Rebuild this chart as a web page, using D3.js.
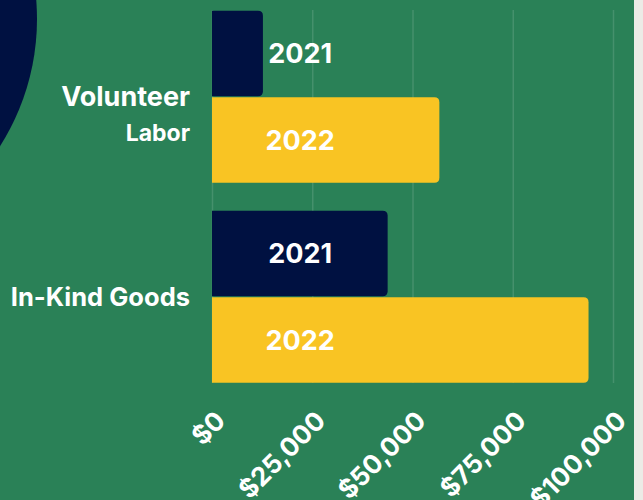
<!DOCTYPE html>
<html>
<head>
<meta charset="utf-8">
<script src="https://cdn.jsdelivr.net/npm/d3@7"></script>
<style>
  html, body { margin: 0; padding: 0; background: #ecebe6; }
  svg { display: block; }
  text { font-family: Inter, "Noto Sans", sans-serif; font-weight: 700; fill: #ffffff; }
</style>
</head>
<body>
<div id="chart"></div>
<script>
// data
const categories = ["Volunteer Labor", "In-Kind Goods"];
const categoryLines = [["Volunteer", "Labor"], ["In-Kind Goods"]];
const years = ["2021", "2022"];
const values2021 = [12700, 43800];
const values2022 = [56700, 93900];
const tickValues = [0, 25000, 50000, 75000, 100000];

const width = 643, height = 500;
const colors = { "2021": "#001141", "2022": "#f9c423" };

const svg = d3.select("#chart").append("svg")
    .attr("width", width)
    .attr("height", height);

// green panel, with the light strip on the right
svg.append("rect")
    .attr("width", 634)
    .attr("height", height)
    .attr("fill", "#2a8157");

// decorative circle at top left
svg.append("circle")
    .attr("cx", -200)
    .attr("cy", 19)
    .attr("r", 237)
    .attr("fill", "#001141");

const x = d3.scaleLinear()
    .domain([0, 100000])
    .range([212, 613]);

const y = d3.scaleBand()
    .domain(categories)
    .range([10.7, 382.7])
    .paddingInner(0.14)
    .paddingOuter(0);

const yInner = d3.scaleBand()
    .domain(years)
    .range([0, y.bandwidth()])
    .paddingInner(0.01);

// grid
svg.append("g")
    .selectAll("line")
    .data(tickValues)
    .enter().append("line")
    .attr("x1", d => x(d) + 0.5)
    .attr("x2", d => x(d) + 0.5)
    .attr("y1", 10)
    .attr("y2", 383)
    .attr("stroke", "rgba(255,255,255,0.13)")
    .attr("stroke-width", 1.5);

// bar data
const rows = [];
categories.forEach(function(c, i) {
    rows.push({ cat: c, year: "2021", value: values2021[i] });
    rows.push({ cat: c, year: "2022", value: values2022[i] });
});

// bar with rounded right corners
function barPath(x0, y0, w, h, r) {
    r = Math.min(r, w, h / 2);
    return "M" + x0 + "," + y0 +
        "H" + (x0 + w - r) +
        "Q" + (x0 + w) + "," + y0 + " " + (x0 + w) + "," + (y0 + r) +
        "V" + (y0 + h - r) +
        "Q" + (x0 + w) + "," + (y0 + h) + " " + (x0 + w - r) + "," + (y0 + h) +
        "H" + x0 + "Z";
}

const bars = svg.append("g")
    .selectAll("g")
    .data(rows)
    .enter().append("g");

bars.append("path")
    .attr("d", d => barPath(x(0), y(d.cat) + yInner(d.year),
        x(d.value) - x(0), yInner.bandwidth(), 5))
    .attr("fill", d => colors[d.year]);

bars.append("text")
    .attr("x", x(22000))
    .attr("y", d => y(d.cat) + yInner(d.year) + yInner.bandwidth() / 2)
    .attr("dy", "0.36em")
    .attr("text-anchor", "middle")
    .style("font-size", "27px")
    .text(d => d.year);

// category labels
const catLabels = svg.append("g")
    .selectAll("text")
    .data(categories)
    .enter().append("text")
    .attr("text-anchor", "end")
    .attr("transform", d => "translate(190," + (y(d) + y.bandwidth() / 2 + 9.3) + ")");

catLabels.each(function(d, i) {
    const t = d3.select(this);
    categoryLines[i].forEach(function(line, j) {
        t.append("tspan")
            .attr("x", 0)
            .attr("y", j * 35)
            .style("font-size", j === 0 ? (categoryLines[i].length > 1 ? "27px" : "25.5px") : "23px")
            .text(line);
    });
});

// x axis
const xAxis = d3.axisBottom(x)
    .tickValues(tickValues)
    .tickFormat(d3.format("$,"))
    .tickSize(0);

const axisG = svg.append("g")
    .attr("transform", "translate(0,409)")
    .call(xAxis);

axisG.select(".domain").remove();
axisG.selectAll("text")
    .attr("x", 0)
    .attr("y", 0)
    .attr("dy", "0.73em")
    .attr("text-anchor", "end")
    .attr("transform", "translate(1,0) rotate(-45)")
    .style("font-size", "26px")
    .style("font-family", "Inter, sans-serif")
    .attr("fill", "#ffffff");
</script>
</body>
</html>
